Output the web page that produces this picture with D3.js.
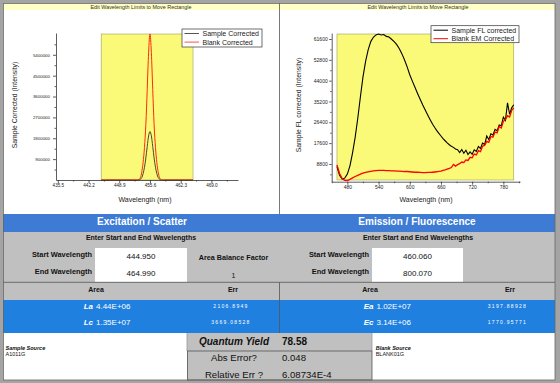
<!DOCTYPE html>
<html>
<head>
<meta charset="utf-8">
<script src="https://cdn.jsdelivr.net/npm/d3@7"></script>
<style>
  body { margin: 0; background: #fff; }
  svg { display: block; font-family: "Liberation Sans", Arial, sans-serif; }
</style>
</head>
<body>
<svg width="560" height="383"></svg>
<script>
// ---- excitation / scatter peak ----
var exWave   = [444.95, 452.6, 452.9, 453.2, 453.5, 453.8, 454.1, 454.4, 454.7, 455.0, 455.3, 455.6,
                455.9, 456.2, 456.5, 456.8, 457.1, 457.4, 457.7, 458.0, 458.3, 458.6, 464.99];
var exSample = [0, 0, 0, 5000, 30000, 100000, 270000, 550000, 950000, 1450000, 1900000, 2090000,
                1900000, 1450000, 950000, 550000, 270000, 100000, 30000, 5000, 0, 0, 0];
var exBlank  = [0, 0, 0, 20000, 100000, 330000, 750000, 1400000, 2400000, 3900000, 5500000, 6300000,
                5500000, 3900000, 2400000, 1400000, 750000, 330000, 100000, 20000, 0, 0, 0];
var exXTicks = [435.5, 442.2, 448.9, 455.6, 462.3, 469.0];
var exYTicks = [900000, 1800000, 2700000, 3600000, 4500000, 5400000];
var exLimits = [444.950, 464.990];

// ---- emission / fluorescence ----
var emWave = [460, 465, 470, 475, 480, 485, 490, 495, 500, 505, 510, 515, 520, 525, 530, 535, 540, 545,
              550, 555, 560, 565, 570, 575, 580, 585, 590, 595, 600, 605, 610, 615, 620, 625, 630, 635, 640,
              644, 648, 652, 656, 660, 664, 668, 672, 676, 680, 684, 688, 692, 696, 700, 704, 708, 712,
              716, 720, 724, 728, 732, 736, 740, 744, 748, 752, 756, 760, 764, 768, 772, 776, 780, 784,
              788, 792, 796, 800];
var emSample = [7700, 4000, 2400, 2800, 4500, 8000, 13500, 20000, 28000, 37000, 45500, 52000, 57000, 60500,
                62300, 63300, 63700, 63300, 63500, 62700, 62400, 61500, 60500, 59200, 57500, 55300, 52700,
                49800, 46500, 43800, 41200, 38600, 36100, 33700, 31500, 29300, 27200,
                25600, 24200, 22900, 21700, 20600, 19500, 18600, 17700, 16900, 16300, 15800, 15100, 14800,
                13600, 14900, 13300, 14600, 12800, 13900, 12900, 14800, 14100, 16200, 15300, 17600, 17000,
                20600, 19100, 21500, 21000, 23400, 22800, 25300, 24900, 28600, 27200, 34600, 29800, 32500, 33800];
var emBlank = [8400, 4800, 2600, 1900, 1800, 2300, 2900, 3500, 4000, 4500, 4900, 5200, 5500, 5700, 5900,
               6000, 6100, 6100, 6100, 6000, 6000, 5900, 5900, 5800, 5800, 5700, 5600, 5600, 5500, 5400,
               5300, 5300, 5200, 5100, 5100, 5200, 5200,
               5300, 5400, 5500, 5700, 5800, 6100, 6300, 6600, 6900, 7300, 8600, 7900, 8500, 8900, 9600,
               9400, 10500, 10300, 11600, 11400, 13000, 12600, 14400, 14000, 16300, 16600, 18300, 17900,
               20400, 20100, 22300, 21900, 24600, 24000, 26800, 27500, 29200, 28600, 31400, 32500];
var emXTicks = [480, 540, 600, 660, 720, 780];
var emYTicks = [8800, 17600, 26400, 35200, 44000, 52800, 61600];
var emLimits = [460.060, 800.070];

// ---- table ----
var areaLabels = ["La", "Lc", "Ea", "Ec"];
var areaValues = ["4.44E+06", "1.35E+07", "1.02E+07", "3.14E+06"];
var areaErrors = ["2106.8949", "3669.08528", "3197.88928", "1770.95771"];
var qyLabels = ["Quantum Yield", "Abs Error?", "Relative Err ?"];
var qyValues = ["78.58", "0.048", "6.08734E-4"];

var svg = d3.select("svg");

function txt(x, y, s, o) {
  o = o || {};
  return svg.append("text").attr("x", x).attr("y", y).text(s)
    .attr("font-size", o.size || 7)
    .attr("font-weight", o.bold ? "bold" : null)
    .attr("font-style", o.italic ? "italic" : null)
    .attr("text-anchor", o.anchor || "start")
    .attr("letter-spacing", o.ls || null)
    .attr("fill", o.fill || "#111");
}

// frame + panels
svg.append("rect").attr("width", 560).attr("height", 383).attr("fill", "#a4a4a4");
svg.append("rect").attr("x", 3).attr("y", 3).attr("width", 552).attr("height", 377).attr("fill", "#fff");
svg.append("rect").attr("x", 3).attr("y", 3).attr("width", 276).attr("height", 7).attr("fill", "#ffffc6");
svg.append("rect").attr("x", 280).attr("y", 3).attr("width", 275).attr("height", 7).attr("fill", "#ffffc6");
txt(141, 8.9, "Edit Wavelength Limits to Move Rectangle", {size: 5.4, anchor: "middle", fill: "#333"});
txt(418, 8.9, "Edit Wavelength Limits to Move Rectangle", {size: 5.4, anchor: "middle", fill: "#333"});

function minors(ticks, domain) {
  var step = ticks[1] - ticks[0], out = [];
  for (var v = ticks[0] - step / 2; v <= domain[1]; v += step) if (v >= domain[0]) out.push(v);
  return out;
}

function drawChart(c) {
  var x = d3.scaleLinear().domain(c.xDomain).range(c.xRange);
  var y = d3.scaleLinear().domain(c.yDomain).range(c.yRange);

  svg.append("rect")
    .attr("x", x(c.limits[0])).attr("width", x(c.limits[1]) - x(c.limits[0]))
    .attr("y", c.yRange[1] + 1).attr("height", c.yRange[0] - c.yRange[1] - 1 - c.bottomInset)
    .attr("fill", "#fafa78").attr("stroke", "#8a8a50").attr("stroke-width", 0.5);

  c.series.forEach(function(s) {
    svg.append("path")
      .datum(c.wave)
      .attr("fill", "none")
      .attr("stroke", s.color)
      .attr("stroke-width", s.width)
      .attr("d", d3.line()
        .curve(s.curve)
        .x(function(d) { return x(d); })
        .y(function(d, i) { return y(s.values[i]); }));
  });

  var gx = svg.append("g").attr("transform", "translate(0," + c.yRange[0] + ")")
    .call(d3.axisBottom(x).tickValues(c.xTicks).tickFormat(c.xFmt).tickSize(3).tickPadding(1).tickSizeOuter(0));
  gx.selectAll("text").attr("font-size", c.xFont).attr("font-family", null).attr("fill", "#222");
  svg.append("g").attr("transform", "translate(0," + c.yRange[0] + ")")
    .call(d3.axisBottom(x).tickValues(minors(c.xTicks, c.xDomain)).tickFormat("").tickSize(1.5).tickSizeOuter(0))
    .select(".domain").remove();

  var gy = svg.append("g").attr("transform", "translate(" + c.xRange[0] + ",0)")
    .call(d3.axisLeft(y).tickValues(c.yTicks).tickFormat(d3.format("d")).tickSize(c.yTickSize).tickPadding(c.yPad).tickSizeOuter(0));
  gy.selectAll("text").attr("font-size", c.yFont).attr("font-family", null).attr("fill", "#222");
  svg.append("g").attr("transform", "translate(" + c.xRange[0] + ",0)")
    .call(d3.axisLeft(y).tickValues(minors(c.yTicks, c.yDomain)).tickFormat("").tickSize(1.5).tickSizeOuter(0))
    .select(".domain").remove();

  svg.selectAll(".domain, .tick line").attr("stroke", "#333").attr("stroke-width", 0.8);

  txt(c.xLabelX, 201.5, "Wavelength (nm)", {size: 7, anchor: "middle", fill: "#222"});
  svg.append("text").attr("transform", "translate(" + c.yLabelX + ",105) rotate(-90)")
    .attr("text-anchor", "middle").attr("font-size", 6.8).attr("fill", "#222").text(c.yLabel);

  // legend
  var L = c.legend;
  svg.append("rect").attr("x", L.x).attr("y", L.y).attr("width", L.w).attr("height", L.h)
    .attr("fill", "#fff").attr("stroke", "#333").attr("stroke-width", 0.7);
  c.series.forEach(function(s, i) {
    var ly = L.y + 4.5 + i * L.row;
    svg.append("line").attr("x1", L.x + 2.5).attr("x2", L.x + 17).attr("y1", ly).attr("y2", ly)
      .attr("stroke", s.legendColor).attr("stroke-width", 1);
    txt(L.x + 20.5, ly + 2.5, s.name, {size: 7, fill: "#222"});
  });
}

drawChart({
  wave: exWave, limits: exLimits,
  xDomain: [435.1, 474.8], xRange: [56, 238],
  yDomain: [0, 6340000], yRange: [180, 33], bottomInset: 0,
  xTicks: exXTicks, yTicks: exYTicks, xFmt: d3.format(".1f"),
  xFont: 4.6, yFont: 4.4, yTickSize: 3, yPad: 3,
  xLabelX: 145, yLabelX: 16.5, yLabel: "Sample Corrected (Intensity)",
  legend: {x: 182, y: 29, w: 80, h: 18, row: 8.6},
  series: [
    {name: "Sample Corrected", values: exSample, color: "#4a4a30", legendColor: "#555", width: 1, curve: d3.curveMonotoneX},
    {name: "Blank Corrected", values: exBlank, color: "#ff2a10", legendColor: "#ff5050", width: 1, curve: d3.curveMonotoneX}
  ]
});

drawChart({
  wave: emWave, limits: emLimits,
  xDomain: [449.9, 812], xRange: [331.7, 520],
  yDomain: [1300, 64130], yRange: [181.7, 33], bottomInset: 1.7,
  xTicks: emXTicks, yTicks: emYTicks, xFmt: d3.format("d"),
  xFont: 5, yFont: 5, yTickSize: 2.5, yPad: 1.5,
  xLabelX: 426, yLabelX: 300.8, yLabel: "Sample FL corrected (Intensity)",
  legend: {x: 431, y: 25.7, w: 88, h: 17, row: 8.5},
  series: [
    {name: "Sample FL corrected", values: emSample, color: "#000", legendColor: "#000", width: 1.1, curve: d3.curveLinear},
    {name: "Blank EM Corrected", values: emBlank, color: "#ff0000", legendColor: "#ff0000", width: 1.3, curve: d3.curveLinear}
  ]
});

// divider between charts
svg.append("line").attr("x1", 279.5).attr("x2", 279.5).attr("y1", 3).attr("y2", 214).attr("stroke", "#555").attr("stroke-width", 0.8);

// ---- table ----
svg.append("rect").attr("x", 3).attr("y", 214).attr("width", 552).attr("height", 18).attr("fill", "#3d7bd4");
txt(142, 224.5, "Excitation / Scatter", {size: 10, bold: true, anchor: "middle", fill: "#fff"});
txt(417, 224.5, "Emission / Fluorescence", {size: 10, bold: true, anchor: "middle", fill: "#fff"});

svg.append("rect").attr("x", 3).attr("y", 232).attr("width", 552).attr("height", 68).attr("fill", "#c0c0c0");
[[141, 92, 95, 187], [418, 369, 372, 463]].forEach(function(p, i) {
  txt(p[0], 240, "Enter Start and End Wavelengths", {size: 7, bold: true, anchor: "middle"});
  txt(p[1], 256.5, "Start Wavelength", {size: 7.4, bold: true, anchor: "end"});
  txt(p[1], 273.5, "End Wavelength", {size: 7.4, bold: true, anchor: "end"});
  svg.append("rect").attr("x", p[2]).attr("y", 248).attr("width", p[3] - p[2]).attr("height", 34).attr("fill", "#fff");
  var lim = i === 0 ? exLimits : emLimits;
  txt((p[2] + p[3]) / 2, 258.5, d3.format(".3f")(lim[0]), {size: 8, anchor: "middle"});
  txt((p[2] + p[3]) / 2, 275.5, d3.format(".3f")(lim[1]), {size: 8, anchor: "middle"});
});
txt(233.5, 259.5, "Area Balance Factor", {size: 7.2, bold: true, anchor: "middle"});
txt(233.5, 277.5, "1", {size: 7, anchor: "middle"});

svg.append("line").attr("x1", 3).attr("x2", 555).attr("y1", 282.3).attr("y2", 282.3).attr("stroke", "#555").attr("stroke-width", 0.8);
txt(96, 291.5, "Area", {size: 7, bold: true, anchor: "middle"});
txt(233, 291.5, "Err", {size: 7, bold: true, anchor: "middle"});
txt(370, 291.5, "Area", {size: 7, bold: true, anchor: "middle"});
txt(510, 291.5, "Err", {size: 7, bold: true, anchor: "middle"});

svg.append("rect").attr("x", 3).attr("y", 300).attr("width", 552).attr("height", 33).attr("fill", "#2080e0");
areaLabels.forEach(function(lab, i) {
  var cx = i < 2 ? 93 : 373.5, ex = i < 2 ? 231 : 507.5, by = i % 2 === 0 ? 309 : 325;
  txt(cx, by, lab, {size: 8, bold: true, italic: true, anchor: "end", fill: "#fff"});
  txt(cx + 3, by, areaValues[i], {size: 8, fill: "#fff"});
  txt(ex, by - 1, areaErrors[i], {size: 5, anchor: "middle", fill: "#fff", ls: 1.3});
});
svg.append("line").attr("x1", 279.5).attr("x2", 279.5).attr("y1", 282.3).attr("y2", 333).attr("stroke", "#555").attr("stroke-width", 0.8);

// bottom block
svg.append("rect").attr("x", 187).attr("y", 333).attr("width", 185).attr("height", 47).attr("fill", "#c0c0c0");
svg.append("line").attr("x1", 187).attr("x2", 187).attr("y1", 333).attr("y2", 351).attr("stroke", "#999").attr("stroke-width", 0.8);
svg.append("line").attr("x1", 372).attr("x2", 372).attr("y1", 333).attr("y2", 351).attr("stroke", "#999").attr("stroke-width", 0.8);
svg.append("rect").attr("x", 187.4).attr("y", 351).attr("width", 184.6).attr("height", 29).attr("fill", "none")
  .attr("stroke", "#555").attr("stroke-width", 0.8);
qyLabels.forEach(function(lab, i) {
  var by = [344.5, 360.5, 377.5][i];
  txt(234, by, lab, {size: i === 0 ? 10 : 9.6, bold: i === 0, italic: i === 0, anchor: "middle"});
  txt(282, by, qyValues[i], {size: i === 0 ? 10 : 9.6, bold: i === 0});
});

txt(5.5, 349.5, "Sample Source", {size: 5.5, bold: true, italic: true});
txt(5.5, 356, "A1011G", {size: 5.5});
txt(375.7, 349.5, "Blank Source", {size: 5.5, bold: true, italic: true});
txt(375.7, 356, "BLANK01G", {size: 5.5});

svg.append("rect").attr("x", 3.4).attr("y", 3.4).attr("width", 551.6).attr("height", 376.6).attr("fill", "none")
  .attr("stroke", "#666").attr("stroke-width", 0.8);
</script>
</body>
</html>
